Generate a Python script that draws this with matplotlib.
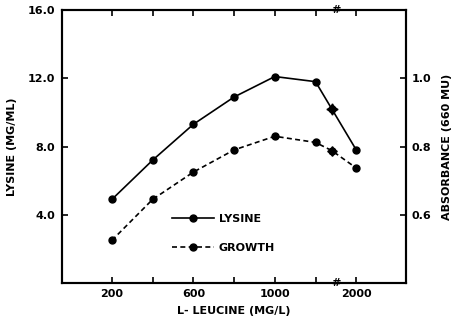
import numpy as np
import matplotlib
matplotlib.use("Agg")
import matplotlib.pyplot as plt
import matplotlib.transforms as mtransforms

# data
leucine = [200, 400, 600, 800, 1000, 1200, 1520, 2000]   # mg/L
lysine = [4.9, 7.2, 9.3, 10.9, 12.1, 11.8, 10.2, 7.8]      # mg/ml
growth = [0.525, 0.645, 0.725, 0.79, 0.83, 0.812, 0.788, 0.737]  # absorbance
xticks = [200, 400, 600, 800, 1000, 1200, 2000]
xticklabels = ["200", "", "600", "", "1000", "", "2000"]
lys_ticks = [4.0, 8.0, 12.0, 16.0]
abs_ticks = [0.6, 0.8, 1.0]


# broken x axis: 1200 -> 2000 squeezed into one 200-step
def fwd(x):
    x = np.asarray(x, dtype=float)
    return np.where(x <= 1200, x, 1200 + (x - 1200) * 0.25)


def inv(y):
    y = np.asarray(y, dtype=float)
    return np.where(y <= 1200, y, 1200 + (y - 1200) * 4.0)


plt.rcParams['font.family'] = 'DejaVu Sans'
plt.rcParams['font.weight'] = 'bold'

fig = plt.figure(figsize=(4.54, 3.22), dpi=100)
ax = fig.add_axes([0.137, 0.121, 0.757, 0.848])
ax.set_xscale('function', functions=(fwd, inv))
ax2 = ax.twinx()

# normal points and the odd star points
ln1, = ax.plot(leucine, lysine, color='black', lw=1.2, marker='o', ms=5,
               label='LYSINE')
ln2, = ax2.plot(leucine, growth, color='black', lw=1.2, ls=(0, (3, 2)),
                marker='o', ms=5, label='GROWTH')
ax.plot(leucine[6], lysine[6], ls='none', marker=(4, 1, 0), ms=8, color='black')
ax2.plot(leucine[6], growth[6], ls='none', marker=(4, 1, 0), ms=7, color='black')

ax.set_xlim(-44, 2975)
ax.set_ylim(0, 16)
ax2.set_ylim(0.4, 1.2)

ax.set_xticks(xticks)
ax.set_xticklabels(xticklabels)
ax.set_yticks(lys_ticks)
ax.set_yticklabels(["%.1f" % v for v in lys_ticks])
ax2.set_yticks(abs_ticks)
ax2.set_yticklabels(["%.1f" % v for v in abs_ticks])

ax.tick_params(axis='x', direction='in', top=True, length=4, width=1.2,
               labelsize=8, pad=4)
ax.tick_params(axis='y', direction='in', length=4, width=1.2, labelsize=8, pad=5)
ax2.tick_params(axis='y', direction='in', length=4, width=1.2, labelsize=8, pad=4)
for a in (ax, ax2):
    for s in a.spines.values():
        s.set_linewidth(1.5)

# break marks on the top and bottom spines
trans = mtransforms.blended_transform_factory(ax.transData, ax.transAxes)
for yy in (0, 1):
    ax.text(1600, yy, "#", transform=trans, ha='center', va='center',
            fontsize=8, fontweight='bold', clip_on=False)

ax.set_xlabel("L- LEUCINE (MG/L)", fontsize=8, fontweight='bold', labelpad=5)
ax.set_ylabel("LYSINE (MG/ML)", fontsize=8, fontweight='bold', labelpad=8)
ax2.set_ylabel("ABSORBANCE (660 MU)", fontsize=8, fontweight='bold', labelpad=8)

leg = ax.legend(handles=[ln1, ln2], loc='lower left', bbox_to_anchor=(0.29, 0.075),
                frameon=False, fontsize=8, handlelength=3.8, handletextpad=0.4,
                labelspacing=1.7)

fig.savefig("out.png", dpi=100)
